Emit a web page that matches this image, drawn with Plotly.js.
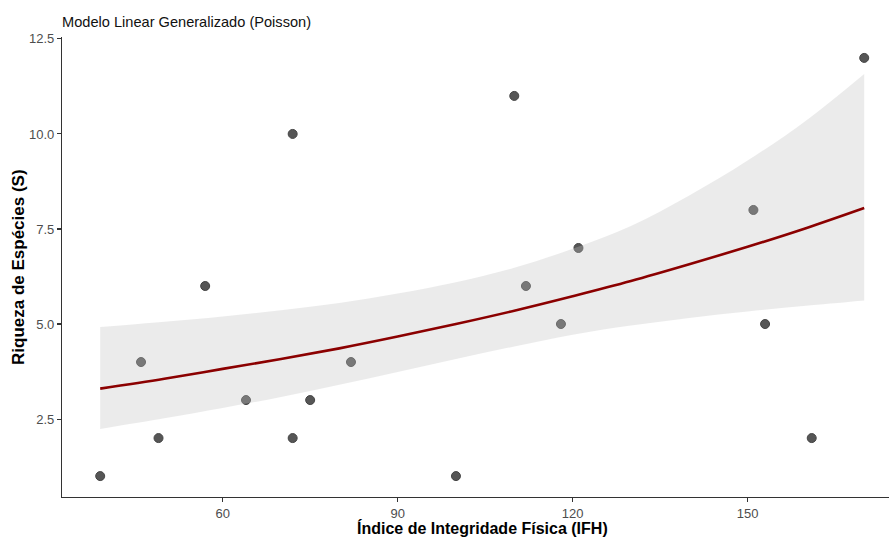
<!DOCTYPE html>
<html>
<head>
<meta charset="utf-8">
<script src="https://cdn.plot.ly/plotly-3.0.1.min.js"></script>
<style>
  html, body { margin: 0; padding: 0; background: #ffffff; }
  #chart { width: 889px; height: 538px; }
</style>
</head>
<body>
<div id="chart"></div>
<script>
// Observed data (IFH vs species richness)
const ifh     = [39, 46, 49, 57, 64, 72, 72, 75, 82, 100, 110, 112, 118, 121, 151, 153, 161, 170];
const riqueza = [1, 4, 2, 6, 3, 10, 2, 3, 4, 1, 11, 6, 5, 7, 8, 5, 2, 12];

// Fitted Poisson GLM curve and confidence band
const fitX   = [39, 50, 60, 70, 80, 90, 100, 110, 120, 130, 140, 150, 160, 170];
const fitY   = [3.30, 3.56, 3.82, 4.08, 4.36, 4.67, 5.00, 5.35, 5.73, 6.13, 6.57, 7.03, 7.52, 8.05];
const ciLow  = [2.24, 2.52, 2.79, 3.08, 3.40, 3.74, 4.08, 4.41, 4.72, 4.96, 5.16, 5.33, 5.48, 5.62];
const ciHigh = [4.92, 5.06, 5.20, 5.36, 5.55, 5.80, 6.10, 6.48, 6.98, 7.58, 8.38, 9.30, 10.35, 11.58];

// Axis ticks
const xTicks = [60, 90, 120, 150];
const xTickText = ['60', '90', '120', '150'];
const yTicks = [2.5, 5.0, 7.5, 10.0, 12.5];
const yTickText = ['2.5', '5.0', '7.5', '10.0', '12.5'];

const titleText = 'Modelo Linear Generalizado (Poisson)';
const xTitle = 'Índice de Integridade Física (IFH)';
const yTitle = 'Riqueza de Espécies (S)';

const FONT = 'Liberation Sans, Arial, sans-serif';

const traces = [
  {
    type: 'scatter', mode: 'markers',
    x: ifh, y: riqueza,
    marker: { size: 9, color: '#565656', line: { color: '#444444', width: 1 } },
    hoverinfo: 'x+y'
  },
  {
    type: 'scatter', mode: 'lines',
    x: fitX, y: ciLow,
    line: { width: 0, color: 'rgba(0,0,0,0)', shape: 'spline' },
    hoverinfo: 'skip'
  },
  {
    type: 'scatter', mode: 'lines',
    x: fitX, y: ciHigh,
    fill: 'tonexty', fillcolor: 'rgba(192,192,192,0.32)',
    line: { width: 0, color: 'rgba(0,0,0,0)', shape: 'spline' },
    hoverinfo: 'skip'
  },
  {
    type: 'scatter', mode: 'lines',
    x: fitX, y: fitY,
    line: { color: '#8b0000', width: 2.6, shape: 'spline' },
    hoverinfo: 'x+y'
  }
];

const layout = {
  width: 889, height: 538,
  margin: { l: 62, r: 0, t: 37, b: 41, pad: 0 },
  paper_bgcolor: '#ffffff', plot_bgcolor: '#ffffff',
  showlegend: false,
  font: { family: FONT, color: '#000000' },
  title: {
    text: titleText,
    font: { family: FONT, size: 14.6, color: '#111111' },
    xref: 'paper', x: 0, xanchor: 'left',
    yref: 'container', y: 1 - 22 / 538, yanchor: 'middle'
  },
  xaxis: {
    range: [32.45, 174.25],
    tickvals: xTicks, ticktext: xTickText,
    showgrid: false, zeroline: false,
    showline: true, linecolor: '#333333', linewidth: 1.1,
    ticks: 'outside', ticklen: 4, tickwidth: 1.1, tickcolor: '#333333',
    tickfont: { family: FONT, size: 13, color: '#4d4d4d' }
  },
  yaxis: {
    range: [0.45, 12.55],
    tickvals: yTicks, ticktext: yTickText,
    showgrid: false, zeroline: false,
    showline: true, linecolor: '#333333', linewidth: 1.1,
    ticks: 'outside', ticklen: 4, tickwidth: 1.1, tickcolor: '#333333',
    tickfont: { family: FONT, size: 13, color: '#4d4d4d' }
  },
  annotations: [
    {
      text: '<b>' + xTitle + '</b>',
      xref: 'paper', yref: 'paper',
      x: (483 - 62) / 827, y: -31 / 460,
      xanchor: 'center', yanchor: 'middle',
      showarrow: false,
      font: { family: FONT, size: 16, color: '#000000' }
    },
    {
      text: '<b>' + yTitle + '</b>',
      xref: 'paper', yref: 'paper',
      x: (18 - 62) / 827, y: 0.5,
      xanchor: 'center', yanchor: 'middle',
      textangle: -90,
      showarrow: false,
      font: { family: FONT, size: 17, color: '#000000' }
    }
  ]
};

Plotly.newPlot('chart', traces, layout, { displayModeBar: false, staticPlot: true });
</script>
</body>
</html>
